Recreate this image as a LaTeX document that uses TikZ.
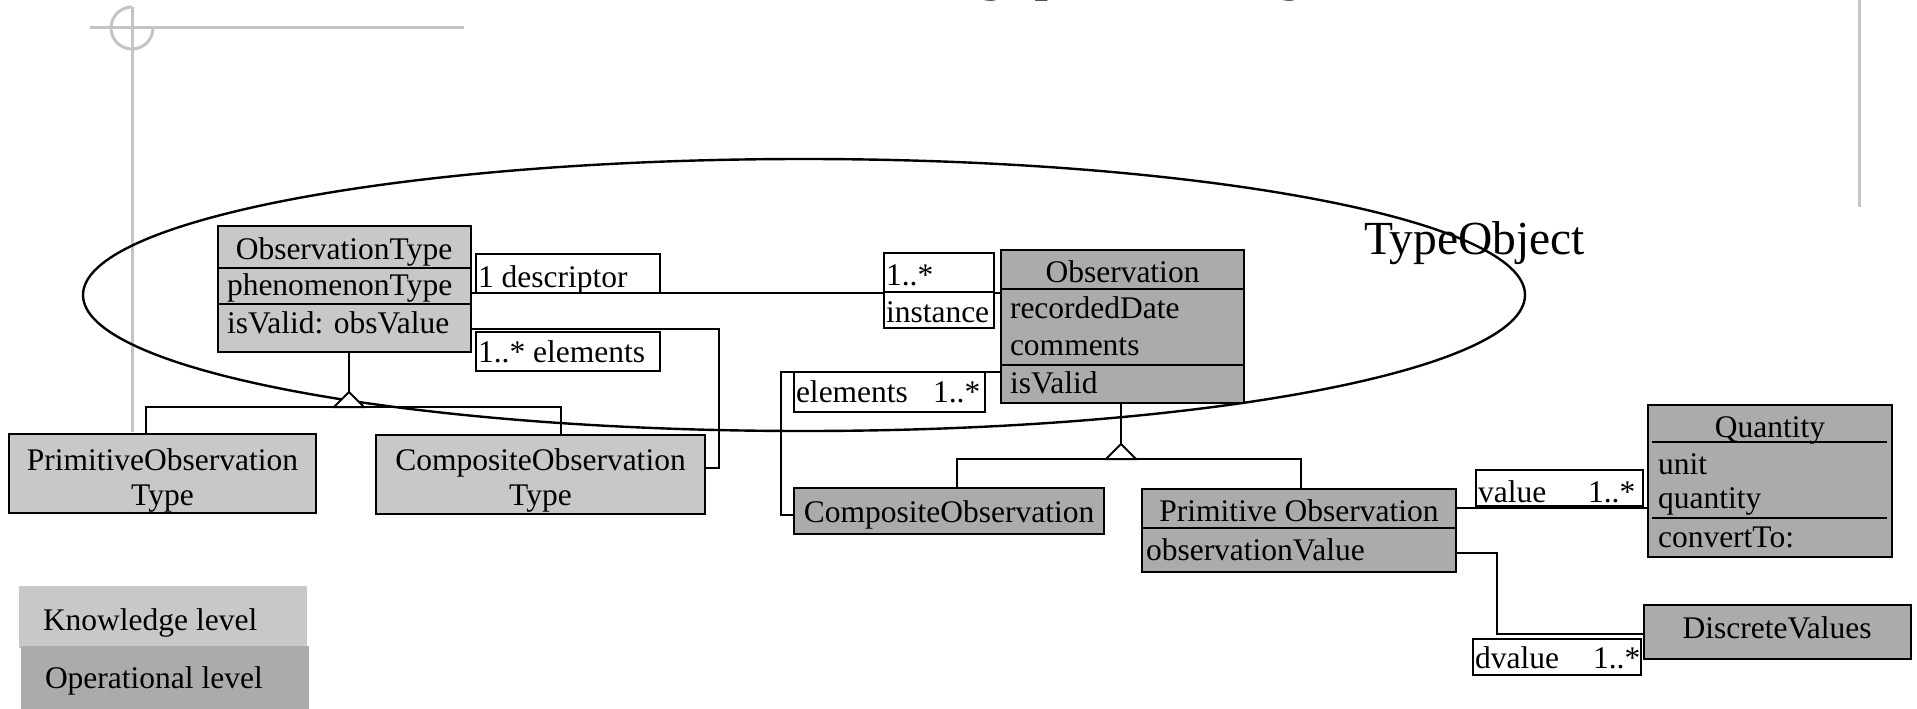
\documentclass[tikz,border=0pt]{standalone}
\usepackage{fontspec}
\setmainfont{Liberation Serif}
\newfontfamily\headfont{Liberation Sans}
\usetikzlibrary{shapes.geometric}

\definecolor{kgray}{RGB}{200,200,200}
\definecolor{ogray}{RGB}{171,171,171}
\definecolor{decogray}{RGB}{196,196,196}

\tikzset{
  every node/.style={inner sep=0pt, outer sep=0pt},
  txt/.style={font=\fontsize{31.5}{36}\selectfont},
  cls/.style={draw, line width=2.2pt, anchor=north west, rectangle},
  kcls/.style={cls, fill=kgray},
  ocls/.style={cls, fill=ogray},
  lbl/.style={draw, line width=2pt, fill=white, anchor=north west, rectangle},
  conn/.style={line width=2pt},
  deco/.style={draw=decogray, line width=3pt},
  gentri/.style={conn, fill=white, line join=miter},
}

% left-aligned and centred text on a baseline
\newcommand\putL[4]{\node[txt, anchor=base west] (#1) at (#2,#3) {#4};}
\newcommand\putC[4]{\node[txt, anchor=base] (#1) at (#2,#3) {#4};}

\begin{document}
\begin{tikzpicture}[x=1pt, y=-1pt]
\useasboundingbox (0,0) rectangle (1917,709);
\clip (0,0) rectangle (1917,709);

% slide decorations
\draw[deco] (90,28) -- (464,28);
\draw[deco] (132,7) -- (132,432);
\draw[deco] (132,7) arc[start angle=270, end angle=0, radius=21];
\draw[deco] (1859,0) -- (1859,207);

% slide heading (runs off the top edge)
\node[font=\headfont\bfseries\itshape\fontsize{90}{100}\selectfont, anchor=base west]
  (heading) at (936,-17) {Type Object};

% the TypeObject boundary
\node[draw, ellipse, line width=2.4pt, minimum width=1442pt, minimum height=272pt]
  (typeobj) at (804,295) {};
\node[font=\fontsize{47.5}{50}\selectfont, anchor=base west] (typeobj-t) at (1364,254) {TypeObject};

% ---------- knowledge level ----------
\node[kcls, minimum width=253pt, minimum height=126pt] (obstype) at (218,226) {};
\draw[conn] (obstype.west |- 0,268) -- (obstype.east |- 0,268);
\draw[conn] (obstype.west |- 0,304) -- (obstype.east |- 0,304);
\putC{obstype-n}{344}{259}{ObservationType}
\putL{obstype-a}{227}{295}{phenomenonType}
\putL{obstype-o}{227}{333}{isValid: obsValue}

\node[kcls, minimum width=307pt, minimum height=79pt] (pot) at (9,434) {};
\putC{pot-1}{162.5}{470}{PrimitiveObservation}
\putC{pot-2}{162.5}{505}{Type}

\node[kcls, minimum width=329pt, minimum height=79pt] (cot) at (376,435) {};
\putC{cot-1}{540.5}{470}{CompositeObservation}
\putC{cot-2}{540.5}{505}{Type}

% generalisation of the observation types
\coordinate (g1) at (349,392);
\coordinate (g1b) at (349,407);
\draw[conn] (g1 |- obstype.south) -- (g1);
\draw[conn] ([xshift=-16.5pt]pot.north) |- (g1b) -| ([xshift=20.5pt]cot.north);
\draw[gentri] (g1) -- ++(-15,15) -- ++(30,0) -- cycle;

% composite type elements
\coordinate (elbowA) at (719,468);
\draw[conn] (obstype.east |- 0,329) -| (elbowA) -- (cot.east |- elbowA);
\node[lbl, minimum width=184pt, minimum height=39pt] (lbl-el) at (476,332) {};
\putL{lbl-el-t}{478}{362}{1..* elements}

% ---------- operational level ----------
\node[ocls, minimum width=243pt, minimum height=153pt] (obs) at (1001,250) {};
\draw[conn] (obs.west |- 0,289) -- (obs.east |- 0,289);
\draw[conn] (obs.west |- 0,365) -- (obs.east |- 0,365);
\putC{obs-n}{1122.5}{282}{Observation}
\putL{obs-a1}{1010}{318}{recordedDate}
\putL{obs-a2}{1010}{355}{comments}
\putL{obs-o}{1010}{393}{isValid}

% descriptor / instance association
\draw[conn] (obstype.east |- 0,293) -- (obs.west |- 0,293);
\node[lbl, minimum width=184pt, minimum height=39pt] (lbl-desc) at (476,254) {};
\putL{lbl-desc-t}{478}{287}{1 descriptor}
\node[lbl, minimum width=110pt, minimum height=39pt] (lbl-mult) at (884,253) {};
\node[lbl, minimum width=110pt, minimum height=36pt] (lbl-inst) at (884,292) {};
\putL{lbl-mult-t}{886}{285}{1..*}
\putL{lbl-inst-t}{886}{322}{instance}

\node[ocls, minimum width=310pt, minimum height=46pt] (cobs) at (794,488) {};
\putC{cobs-t}{949}{522}{CompositeObservation}

\node[ocls, minimum width=314pt, minimum height=83pt] (pobs) at (1142,489) {};
\draw[conn] (pobs.west |- 0,528) -- (pobs.east |- 0,528);
\putC{pobs-n}{1299}{521}{Primitive Observation}
\putL{pobs-a}{1146}{560}{observationValue}

% generalisation of the observations
\coordinate (g2) at (1121,444);
\coordinate (g2b) at (1121,459);
\draw[conn] (g2 |- obs.south) -- (g2);
\draw[conn] ([xshift=8pt]cobs.north) |- (g2b) -| ([xshift=2pt]pobs.north);
\draw[gentri] (g2) -- ++(-15,15) -- ++(30,0) -- cycle;

% composite observation elements
\coordinate (elbowB) at (781,372);
\draw[conn] (obs.west |- elbowB) -- (elbowB) |- (cobs.west |- 0,515);
\node[lbl, minimum width=191pt, minimum height=40pt] (lbl-oel) at (794,372) {};
\putL{lbl-oel-t1}{796}{402}{elements}
\putL{lbl-oel-t2}{933}{402}{1..*}

% quantity
\node[ocls, minimum width=244pt, minimum height=152pt] (qty) at (1648,405) {};
\draw[conn] ([xshift=4pt]qty.west |- 0,442) -- ([xshift=-5pt]qty.east |- 0,442);
\draw[conn] ([xshift=4pt]qty.west |- 0,518) -- ([xshift=-5pt]qty.east |- 0,518);
\putC{qty-n}{1770}{437}{Quantity}
\putL{qty-a1}{1658}{474}{unit}
\putL{qty-a2}{1658}{508}{quantity}
\putL{qty-o}{1658}{547}{convertTo:}

\draw[conn] (pobs.east |- 0,508) -- (qty.west |- 0,508);
\node[lbl, minimum width=167pt, minimum height=36pt] (lbl-val) at (1476,470) {};
\putL{lbl-val-t1}{1478}{502}{value}
\putL{lbl-val-t2}{1588}{502}{1..*}

% discrete values
\node[ocls, minimum width=267pt, minimum height=54pt] (dv) at (1644,605) {};
\putC{dv-t}{1777}{638}{DiscreteValues}

\coordinate (elbowC) at (1497,553);
\draw[conn] (pobs.east |- elbowC) -- (elbowC) |- (dv.west |- 0,634);
\node[lbl, minimum width=168pt, minimum height=36pt] (lbl-dv) at (1473,639) {};
\putL{lbl-dv-t1}{1475}{668}{dvalue}
\putL{lbl-dv-t2}{1593}{668}{1..*}

% ---------- legend ----------
\node[fill=kgray, anchor=north west, minimum width=288pt, minimum height=62pt] (know) at (19,586) {};
\putL{know-t}{43}{630}{Knowledge level}
\node[fill=ogray, anchor=north west, minimum width=288pt, minimum height=64pt] (oper) at (21,646) {};
\putL{oper-t}{45}{688}{Operational level}
\end{tikzpicture}
\end{document}
